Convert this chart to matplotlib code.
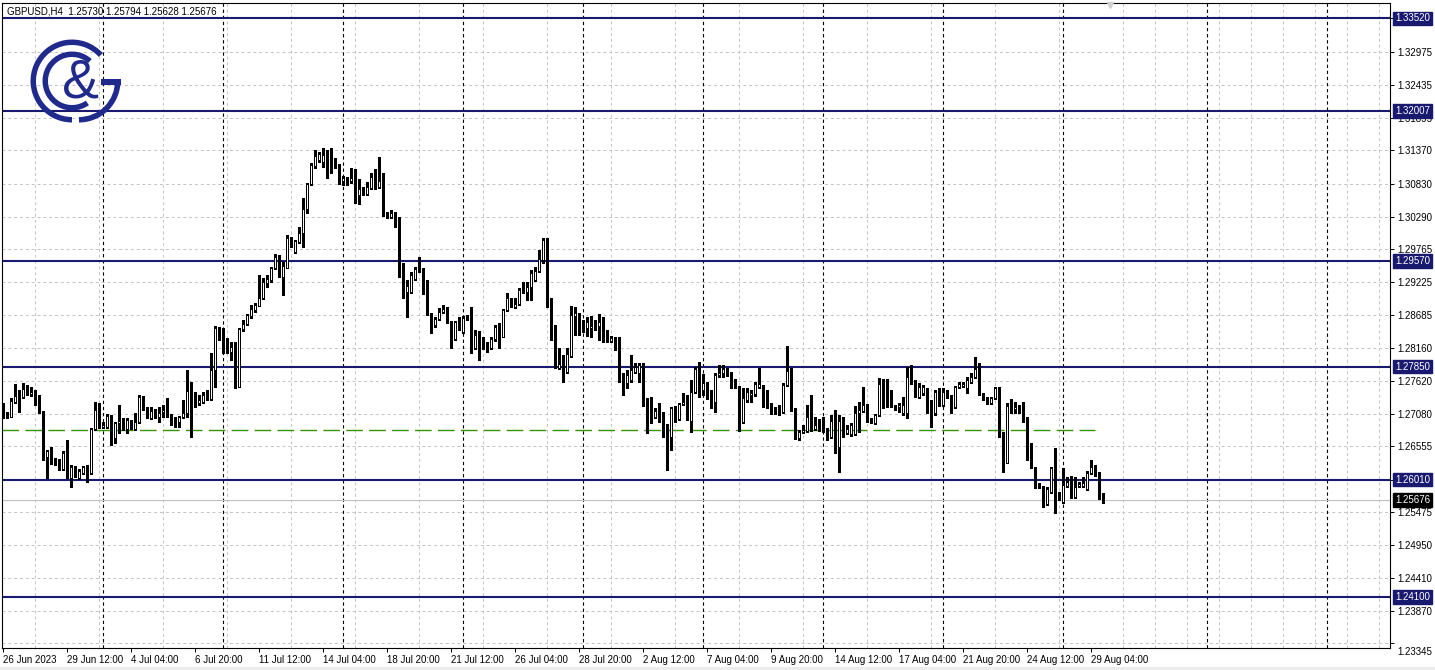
import matplotlib
matplotlib.use("Agg")
import matplotlib.pyplot as plt
import matplotlib.transforms as mtransforms
from matplotlib.patches import Wedge, Rectangle
import numpy as np

# ── Data (GBPUSD H4) ─────────────────────────────────────────────────────────

opens = [
    1.2724, 1.2705, 1.2703, 1.2727, 1.2736, 1.2736, 1.2748, 1.2740, 1.2744, 1.2724,
    1.2711, 1.2638, 1.2648, 1.2633, 1.2633, 1.2618, 1.2644, 1.2603, 1.2621, 1.2603,
    1.2612, 1.2621, 1.2612, 1.2683, 1.2714, 1.2687, 1.2687, 1.2705, 1.2669, 1.2693,
    1.2698, 1.2683, 1.2695, 1.2683, 1.2695, 1.2736, 1.2716, 1.2701, 1.2713, 1.2703,
    1.2711, 1.2714, 1.2706, 1.2701, 1.2695, 1.2703, 1.2709, 1.2745, 1.2734, 1.2726,
    1.2727, 1.2739, 1.2732, 1.2779, 1.2848, 1.2827, 1.2825, 1.2809, 1.2820, 1.2752,
    1.2846, 1.2854, 1.2867, 1.2877, 1.2884, 1.2897, 1.2921, 1.2926, 1.2946, 1.2965,
    1.2931, 1.2946, 1.2994, 1.2972, 1.2988, 1.3002, 1.3042, 1.3082, 1.3111, 1.3121,
    1.3118, 1.3129, 1.3120, 1.3111, 1.3113, 1.3087, 1.3092, 1.3087, 1.3092, 1.3064,
    1.3074, 1.3066, 1.3076, 1.3094, 1.3077, 1.3089, 1.3033, 1.3029, 1.3035, 1.3015,
    1.2939, 1.2906, 1.2906, 1.2928, 1.2944, 1.2942, 1.2924, 1.2871, 1.2853, 1.2863,
    1.2874, 1.2879, 1.2858, 1.2830, 1.2858, 1.2841, 1.2866, 1.2864, 1.2815, 1.2835,
    1.2832, 1.2823, 1.2815, 1.2830, 1.2850, 1.2833, 1.2877, 1.2890, 1.2882, 1.2887,
    1.2910, 1.2906, 1.2915, 1.2926, 1.2941, 1.2959, 1.2991, 1.2895, 1.2840, 1.2783,
    1.2789, 1.2776, 1.2802, 1.2867, 1.2869, 1.2858, 1.2848, 1.2848, 1.2853, 1.2851,
    1.2858, 1.2841, 1.2827, 1.2832, 1.2825, 1.2765, 1.2758, 1.2763, 1.2776, 1.2774,
    1.2787, 1.2726, 1.2724, 1.2703, 1.2713, 1.2705, 1.2690, 1.2670, 1.2718, 1.2700,
    1.2724, 1.2732, 1.2696, 1.2744, 1.2781, 1.2747, 1.2758, 1.2734, 1.2727, 1.2771,
    1.2774, 1.2776, 1.2771, 1.2762, 1.2752, 1.2695, 1.2731, 1.2739, 1.2740, 1.2752,
    1.2753, 1.2727, 1.2722, 1.2714, 1.2713, 1.2711, 1.2755, 1.2779, 1.2714, 1.2669,
    1.2678, 1.2680, 1.2703, 1.2683, 1.2690, 1.2690, 1.2683, 1.2670, 1.2696, 1.2654,
    1.2696, 1.2677, 1.2675, 1.2675, 1.2709, 1.2713, 1.2722, 1.2698, 1.2693, 1.2706,
    1.2757, 1.2732, 1.2732, 1.2719, 1.2719, 1.2709, 1.2709, 1.2768, 1.2758, 1.2736,
    1.2742, 1.2744, 1.2718, 1.2709, 1.2744, 1.2722, 1.2744, 1.2737, 1.2719, 1.2752,
    1.2753, 1.2750, 1.2760, 1.2768, 1.2781, 1.2740, 1.2734, 1.2726, 1.2734, 1.2750,
    1.2677, 1.2628, 1.2721, 1.2716, 1.2719, 1.2719, 1.2701, 1.2636, 1.2621, 1.2592,
    1.2589, 1.2561, 1.2581, 1.2620, 1.2579, 1.2564, 1.2590, 1.2597, 1.2573, 1.2590,
    1.2590, 1.2586, 1.2612, 1.2621, 1.2610, 1.25730,
]
highs = [
    1.2726, 1.2711, 1.2734, 1.2757, 1.2747, 1.2758, 1.2755, 1.2752, 1.2747, 1.2739,
    1.2713, 1.2649, 1.2654, 1.2636, 1.2634, 1.2648, 1.2666, 1.2625, 1.2623, 1.2618,
    1.2623, 1.2625, 1.2685, 1.2727, 1.2726, 1.2695, 1.2708, 1.2706, 1.2695, 1.2722,
    1.2701, 1.2701, 1.2698, 1.2709, 1.2739, 1.2737, 1.2719, 1.2719, 1.2716, 1.2719,
    1.2722, 1.2734, 1.2708, 1.2703, 1.2705, 1.2731, 1.2779, 1.2760, 1.2744, 1.2739,
    1.2744, 1.2747, 1.2807, 1.2851, 1.2850, 1.2848, 1.2832, 1.2825, 1.2825, 1.2848,
    1.2861, 1.2871, 1.2885, 1.2889, 1.2934, 1.2929, 1.2934, 1.2947, 1.2968, 1.2967,
    1.2955, 1.2999, 1.2996, 1.2991, 1.3012, 1.3059, 1.3084, 1.3116, 1.3138, 1.3134,
    1.3141, 1.3138, 1.3141, 1.3125, 1.3115, 1.3095, 1.3094, 1.3108, 1.3107, 1.3090,
    1.3077, 1.3085, 1.3100, 1.3107, 1.3126, 1.3100, 1.3037, 1.3040, 1.3037, 1.3029,
    1.2954, 1.2926, 1.2939, 1.2947, 1.2963, 1.2946, 1.2926, 1.2872, 1.2866, 1.2880,
    1.2885, 1.2882, 1.2859, 1.2859, 1.2866, 1.2867, 1.2869, 1.2882, 1.2845, 1.2843,
    1.2833, 1.2825, 1.2833, 1.2853, 1.2856, 1.2879, 1.2905, 1.2897, 1.2897, 1.2913,
    1.2923, 1.2923, 1.2942, 1.2947, 1.2975, 1.2994, 1.2994, 1.2897, 1.2853, 1.2815,
    1.2804, 1.2815, 1.2884, 1.2882, 1.2872, 1.2861, 1.2866, 1.2867, 1.2861, 1.2871,
    1.2866, 1.2845, 1.2835, 1.2833, 1.2833, 1.2774, 1.2779, 1.2804, 1.2791, 1.2791,
    1.2791, 1.2734, 1.2736, 1.2718, 1.2726, 1.2711, 1.2691, 1.2719, 1.2721, 1.2726,
    1.2742, 1.2739, 1.2763, 1.2784, 1.2792, 1.2773, 1.2760, 1.2747, 1.2774, 1.2787,
    1.2787, 1.2783, 1.2776, 1.2765, 1.2753, 1.2750, 1.2750, 1.2747, 1.2760, 1.2783,
    1.2755, 1.2747, 1.2726, 1.2719, 1.2722, 1.2758, 1.2818, 1.2783, 1.2718, 1.2682,
    1.2690, 1.2722, 1.2739, 1.2703, 1.2700, 1.2703, 1.2685, 1.2706, 1.2714, 1.2706,
    1.2703, 1.2690, 1.2693, 1.2721, 1.2727, 1.2752, 1.2724, 1.2701, 1.2708, 1.2766,
    1.2765, 1.2765, 1.2747, 1.2722, 1.2726, 1.2736, 1.2784, 1.2787, 1.2763, 1.2758,
    1.2755, 1.2750, 1.2731, 1.2747, 1.2750, 1.2750, 1.2747, 1.2739, 1.2753, 1.2760,
    1.2760, 1.2768, 1.2774, 1.2801, 1.2791, 1.2742, 1.2736, 1.2736, 1.2752, 1.2752,
    1.2678, 1.2726, 1.2732, 1.2727, 1.2722, 1.2727, 1.2703, 1.2661, 1.2621, 1.2595,
    1.2590, 1.2589, 1.2621, 1.2652, 1.2581, 1.2620, 1.2605, 1.2607, 1.2605, 1.2597,
    1.2605, 1.2615, 1.2633, 1.2625, 1.2613, 1.25794,
]
lows = [
    1.2701, 1.2701, 1.2703, 1.2726, 1.2711, 1.2734, 1.2739, 1.2737, 1.2722, 1.2709,
    1.2633, 1.2603, 1.2626, 1.2625, 1.2617, 1.2617, 1.2603, 1.2589, 1.2605, 1.2602,
    1.2610, 1.2597, 1.2610, 1.2682, 1.2685, 1.2685, 1.2685, 1.2657, 1.2661, 1.2677,
    1.2682, 1.2677, 1.2683, 1.2682, 1.2693, 1.2714, 1.2701, 1.2700, 1.2701, 1.2695,
    1.2703, 1.2703, 1.2690, 1.2687, 1.2687, 1.2701, 1.2703, 1.2670, 1.2719, 1.2722,
    1.2726, 1.2731, 1.2731, 1.2752, 1.2828, 1.2807, 1.2807, 1.2796, 1.2750, 1.2752,
    1.2843, 1.2852, 1.2864, 1.2874, 1.2884, 1.2895, 1.2915, 1.2923, 1.2944, 1.2931,
    1.2902, 1.2946, 1.2980, 1.2970, 1.2986, 1.2980, 1.3035, 1.3081, 1.3108, 1.3118,
    1.3110, 1.3092, 1.3100, 1.3108, 1.3082, 1.3081, 1.3081, 1.3084, 1.3051, 1.3050,
    1.3064, 1.3064, 1.3074, 1.3074, 1.3076, 1.3030, 1.3027, 1.3027, 1.3012, 1.2931,
    1.2897, 1.2866, 1.2905, 1.2926, 1.2939, 1.2903, 1.2869, 1.2840, 1.2850, 1.2861,
    1.2872, 1.2856, 1.2815, 1.2828, 1.2845, 1.2840, 1.2861, 1.2807, 1.2814, 1.2796,
    1.2814, 1.2809, 1.2814, 1.2827, 1.2815, 1.2833, 1.2876, 1.2882, 1.2880, 1.2885,
    1.2905, 1.2893, 1.2893, 1.2924, 1.2939, 1.2954, 1.2882, 1.2828, 1.2783, 1.2781,
    1.2760, 1.2774, 1.2801, 1.2836, 1.2836, 1.2841, 1.2835, 1.2833, 1.2845, 1.2828,
    1.2825, 1.2825, 1.2825, 1.2812, 1.2760, 1.2739, 1.2750, 1.2760, 1.2774, 1.2760,
    1.2721, 1.2677, 1.2693, 1.2701, 1.2695, 1.2670, 1.2617, 1.2649, 1.2695, 1.2698,
    1.2722, 1.2698, 1.2678, 1.2742, 1.2736, 1.2739, 1.2732, 1.2718, 1.2711, 1.2768,
    1.2768, 1.2770, 1.2750, 1.2750, 1.2680, 1.2693, 1.2727, 1.2727, 1.2737, 1.2750,
    1.2719, 1.2718, 1.2708, 1.2708, 1.2706, 1.2709, 1.2753, 1.2713, 1.2667, 1.2666,
    1.2677, 1.2678, 1.2680, 1.2682, 1.2680, 1.2678, 1.2666, 1.2669, 1.2644, 1.2613,
    1.2670, 1.2675, 1.2672, 1.2674, 1.2678, 1.2711, 1.2695, 1.2693, 1.2691, 1.2705,
    1.2718, 1.2719, 1.2719, 1.2714, 1.2711, 1.2706, 1.2701, 1.2757, 1.2736, 1.2734,
    1.2739, 1.2709, 1.2687, 1.2706, 1.2721, 1.2721, 1.2734, 1.2709, 1.2718, 1.2750,
    1.2752, 1.2742, 1.2758, 1.2766, 1.2739, 1.2731, 1.2724, 1.2724, 1.2732, 1.2670,
    1.2613, 1.2628, 1.2709, 1.2709, 1.2709, 1.2695, 1.2633, 1.2620, 1.2587, 1.2587,
    1.2556, 1.2560, 1.2579, 1.2547, 1.2568, 1.2563, 1.2589, 1.2571, 1.2571, 1.2589,
    1.2589, 1.2584, 1.2610, 1.2607, 1.2569, 1.25628,
]
closes = [
    1.2703, 1.2703, 1.2729, 1.2737, 1.2737, 1.2748, 1.2740, 1.2744, 1.2722, 1.2711,
    1.2638, 1.2648, 1.2628, 1.2626, 1.2618, 1.2644, 1.2605, 1.2621, 1.2607, 1.2615,
    1.2621, 1.2612, 1.2683, 1.2714, 1.2687, 1.2690, 1.2705, 1.2669, 1.2693, 1.2696,
    1.2683, 1.2698, 1.2685, 1.2695, 1.2736, 1.2716, 1.2708, 1.2713, 1.2703, 1.2709,
    1.2714, 1.2705, 1.2698, 1.2696, 1.2703, 1.2709, 1.2745, 1.2724, 1.2726, 1.2731,
    1.2739, 1.2732, 1.2779, 1.2848, 1.2832, 1.2823, 1.2809, 1.2817, 1.2752, 1.2846,
    1.2854, 1.2869, 1.2879, 1.2885, 1.2897, 1.2923, 1.2928, 1.2946, 1.2963, 1.2931,
    1.2949, 1.2994, 1.2981, 1.2989, 1.3002, 1.3042, 1.3082, 1.3113, 1.3128, 1.3131,
    1.3129, 1.3120, 1.3111, 1.3110, 1.3084, 1.3092, 1.3089, 1.3092, 1.3064, 1.3074,
    1.3066, 1.3077, 1.3094, 1.3076, 1.3087, 1.3032, 1.3029, 1.3035, 1.3014, 1.2933,
    1.2915, 1.2916, 1.2934, 1.2944, 1.2941, 1.2906, 1.2871, 1.2853, 1.2863, 1.2874,
    1.2879, 1.2856, 1.2830, 1.2858, 1.2846, 1.2864, 1.2863, 1.2815, 1.2836, 1.2832,
    1.2815, 1.2815, 1.2830, 1.2850, 1.2833, 1.2877, 1.2897, 1.2882, 1.2887, 1.2910,
    1.2906, 1.2915, 1.2937, 1.2941, 1.2960, 1.2991, 1.2895, 1.2840, 1.2787, 1.2789,
    1.2776, 1.2805, 1.2869, 1.2872, 1.2838, 1.2845, 1.2858, 1.2851, 1.2850, 1.2858,
    1.2828, 1.2828, 1.2832, 1.2825, 1.2762, 1.2758, 1.2771, 1.2779, 1.2784, 1.2787,
    1.2722, 1.2722, 1.2703, 1.2713, 1.2698, 1.2674, 1.2670, 1.2718, 1.2701, 1.2724,
    1.2727, 1.2700, 1.2744, 1.2781, 1.2739, 1.2758, 1.2734, 1.2727, 1.2771, 1.2774,
    1.2781, 1.2771, 1.2760, 1.2752, 1.2695, 1.2734, 1.2744, 1.2742, 1.2757, 1.2757,
    1.2726, 1.2721, 1.2709, 1.2709, 1.2709, 1.2755, 1.2778, 1.2714, 1.2669, 1.2678,
    1.2682, 1.2703, 1.2683, 1.2690, 1.2683, 1.2682, 1.2670, 1.2696, 1.2654, 1.2696,
    1.2674, 1.2683, 1.2690, 1.2709, 1.2714, 1.2722, 1.2696, 1.2695, 1.2706, 1.2757,
    1.2719, 1.2721, 1.2722, 1.2718, 1.2722, 1.2722, 1.2768, 1.2758, 1.2739, 1.2752,
    1.2752, 1.2718, 1.2709, 1.2744, 1.2722, 1.2744, 1.2736, 1.2719, 1.2752, 1.2757,
    1.2757, 1.2763, 1.2768, 1.2781, 1.2740, 1.2734, 1.2726, 1.2734, 1.2750, 1.2677,
    1.2628, 1.2721, 1.2718, 1.2719, 1.2709, 1.2698, 1.2634, 1.2621, 1.2592, 1.2589,
    1.2563, 1.2586, 1.2620, 1.2579, 1.2569, 1.2592, 1.2597, 1.2573, 1.2589, 1.2594,
    1.2595, 1.2612, 1.2621, 1.2608, 1.2571, 1.25676,
]

levels = [1.33520, 1.32007, 1.29570, 1.27850, 1.26010, 1.24100]
support_line = 1.2682
support_end = 273          # bar where the green dashed line stops
last_price = 1.25676
header = "GBPUSD,H4  1.25730 1.25794 1.25628 1.25676"

price_ticks = [1.33520, 1.32975, 1.32435, 1.31895, 1.31370, 1.30830, 1.30290,
               1.29765, 1.29225, 1.28685, 1.28160, 1.27620, 1.27080, 1.26555,
               1.26010, 1.25475, 1.24950, 1.24410, 1.23870, 1.23345]
time_labels = ["26 Jun 2023", "29 Jun 12:00", "4 Jul 04:00", "6 Jul 20:00",
               "11 Jul 12:00", "14 Jul 04:00", "18 Jul 20:00", "21 Jul 12:00",
               "26 Jul 04:00", "28 Jul 20:00", "2 Aug 12:00", "7 Aug 04:00",
               "9 Aug 20:00", "14 Aug 12:00", "17 Aug 04:00", "21 Aug 20:00",
               "24 Aug 12:00", "29 Aug 04:00"]
label_step = 16            # bars between time labels
week_seps = [25, 55, 85, 115, 145, 175, 205, 235, 265, 301, 331]

# ── Style ─────────────────────────────────────────────────────────────────────

W, H = 1435, 670
NAVY = "#191970"
LOGO = "#1f2a8c"
GRID = "#c4c4c4"
FONT = "Liberation Sans"
FS = 7.0

plt.rcParams["font.family"] = [FONT, "DejaVu Sans"]

fig = plt.figure(figsize=(W / 100, H / 100), dpi=100)
fig.patch.set_facecolor("white")
ax = fig.add_axes([2 / W, 22 / H, 1388 / W, 645 / H])
ax.set_facecolor("white")

n = len(closes)
xs = np.arange(n)
o = np.array(opens)
c = np.array(closes)
hi = np.array(highs)
lo = np.array(lows)

ax.set_xlim(-0.25, 346.75)
ax.set_ylim(1.23269, 1.33769)

# ── Grid and separators ───────────────────────────────────────────────────────
ax.set_yticks(price_ticks)
ax.set_yticklabels([f"{p:.5f}" for p in price_ticks])
ax.yaxis.tick_right()
ax.set_xticks(np.arange(0, label_step * len(time_labels), label_step))
ax.set_xticklabels(time_labels, ha="left")
ax.set_xticks(np.arange(0, 347, 8), minor=True)
ax.tick_params(axis="x", which="minor", length=0)
ax.tick_params(axis="both", which="major", length=3, width=0.7, color="black",
               labelsize=FS, pad=2)
ax.grid(axis="y", which="major", color=GRID, ls=(0, (3, 3)), lw=0.7, zorder=0)
ax.grid(axis="x", which="minor", color=GRID, ls=(0, (3, 3)), lw=0.7, zorder=0)
ax.set_axisbelow(True)

# MT5 pushes the lowest price label down so it stays inside the window
for lbl in ax.get_yticklabels():
    if lbl.get_text() == "1.23345":
        lbl.set_transform(lbl.get_transform() +
                          mtransforms.ScaledTranslation(0, -0.08, fig.dpi_scale_trans))

for k in week_seps:
    ax.axvline(k, color="black", lw=0.8, ls=(0, (3, 2.5)), zorder=1)

for sp in ax.spines.values():
    sp.set_linewidth(0.8)
    sp.set_color("black")

# ── Levels ───────────────────────────────────────────────────────────────────
ax.axhline(last_price, color="#c0c0c0", lw=0.8, zorder=1)
for lvl in levels:
    ax.axhline(lvl, color=NAVY, lw=1.5, zorder=2)
ax.hlines(support_line, -0.25, support_end, color="#3a9400", lw=1.0,
          linestyles=[(0, (12, 4.5))], zorder=2)

# ── Candles ──────────────────────────────────────────────────────────────────
ax.vlines(xs, lo, hi, color="black", lw=0.75, zorder=3, antialiased=False)
up = c >= o
body_h = np.abs(c - o)
body_b = np.minimum(o, c)
ax.bar(xs[up], body_h[up], bottom=body_b[up], width=0.5, color="white",
       edgecolor="black", lw=0.6, zorder=4, antialiased=False)
ax.bar(xs[~up], body_h[~up], bottom=body_b[~up], width=0.5, color="black",
       edgecolor="black", lw=0.6, zorder=4, antialiased=False)

# ── Right-hand price boxes ───────────────────────────────────────────────────
trans = mtransforms.blended_transform_factory(ax.transAxes, ax.transData)
box_x = 1.0 + 5 / 1388
for lvl in levels:
    ax.text(box_x, lvl, f"{lvl:.5f}", transform=trans, ha="left", va="center",
            color="white", fontsize=FS, zorder=6, clip_on=False,
            bbox=dict(facecolor=NAVY, edgecolor=NAVY, boxstyle="square,pad=0.18"))
ax.text(box_x, last_price, f"{last_price:.5f}", transform=trans, ha="left",
        va="center", color="white", fontsize=FS, zorder=6, clip_on=False,
        bbox=dict(facecolor="black", edgecolor="black", boxstyle="square,pad=0.18"))

# ── Overlay: header, logo ────────────────────────────────────────────────────
lax = fig.add_axes([0, 0, 1, 1], zorder=5)
lax.set_xlim(0, W)
lax.set_ylim(0, H)
lax.axis("off")
lax.patch.set_alpha(0)

lax.text(7, H - 12, header, fontsize=FS, va="center", ha="left", color="black")
lax.plot([1110], [H - 5], marker="v", ms=5, color="#cfcfcf", mec="#cfcfcf")

cx, cy = 72, H - 81
lax.add_patch(Wedge((cx, cy), 41.5, 42, 270, width=5.5, color=LOGO, lw=0))
lax.add_patch(Wedge((cx + 7, cy), 41.5, 270, 360, width=5.5, color=LOGO, lw=0))
lax.add_patch(Rectangle((101, cy - 3.5), 19.5, 5.5, color=LOGO, lw=0))
lax.add_patch(Wedge((cx, cy), 29.5, 48, 305, width=5.5, color=LOGO, lw=0))
lax.text(80, cy - 3, "&", fontsize=40, color=LOGO, ha="center", va="center",
         family=FONT)

# light strip along the bottom edge
lax.add_patch(Rectangle((0, 0), W, 3, color="#ececec", lw=0))

fig.savefig("out.png", dpi=100, facecolor="white")
